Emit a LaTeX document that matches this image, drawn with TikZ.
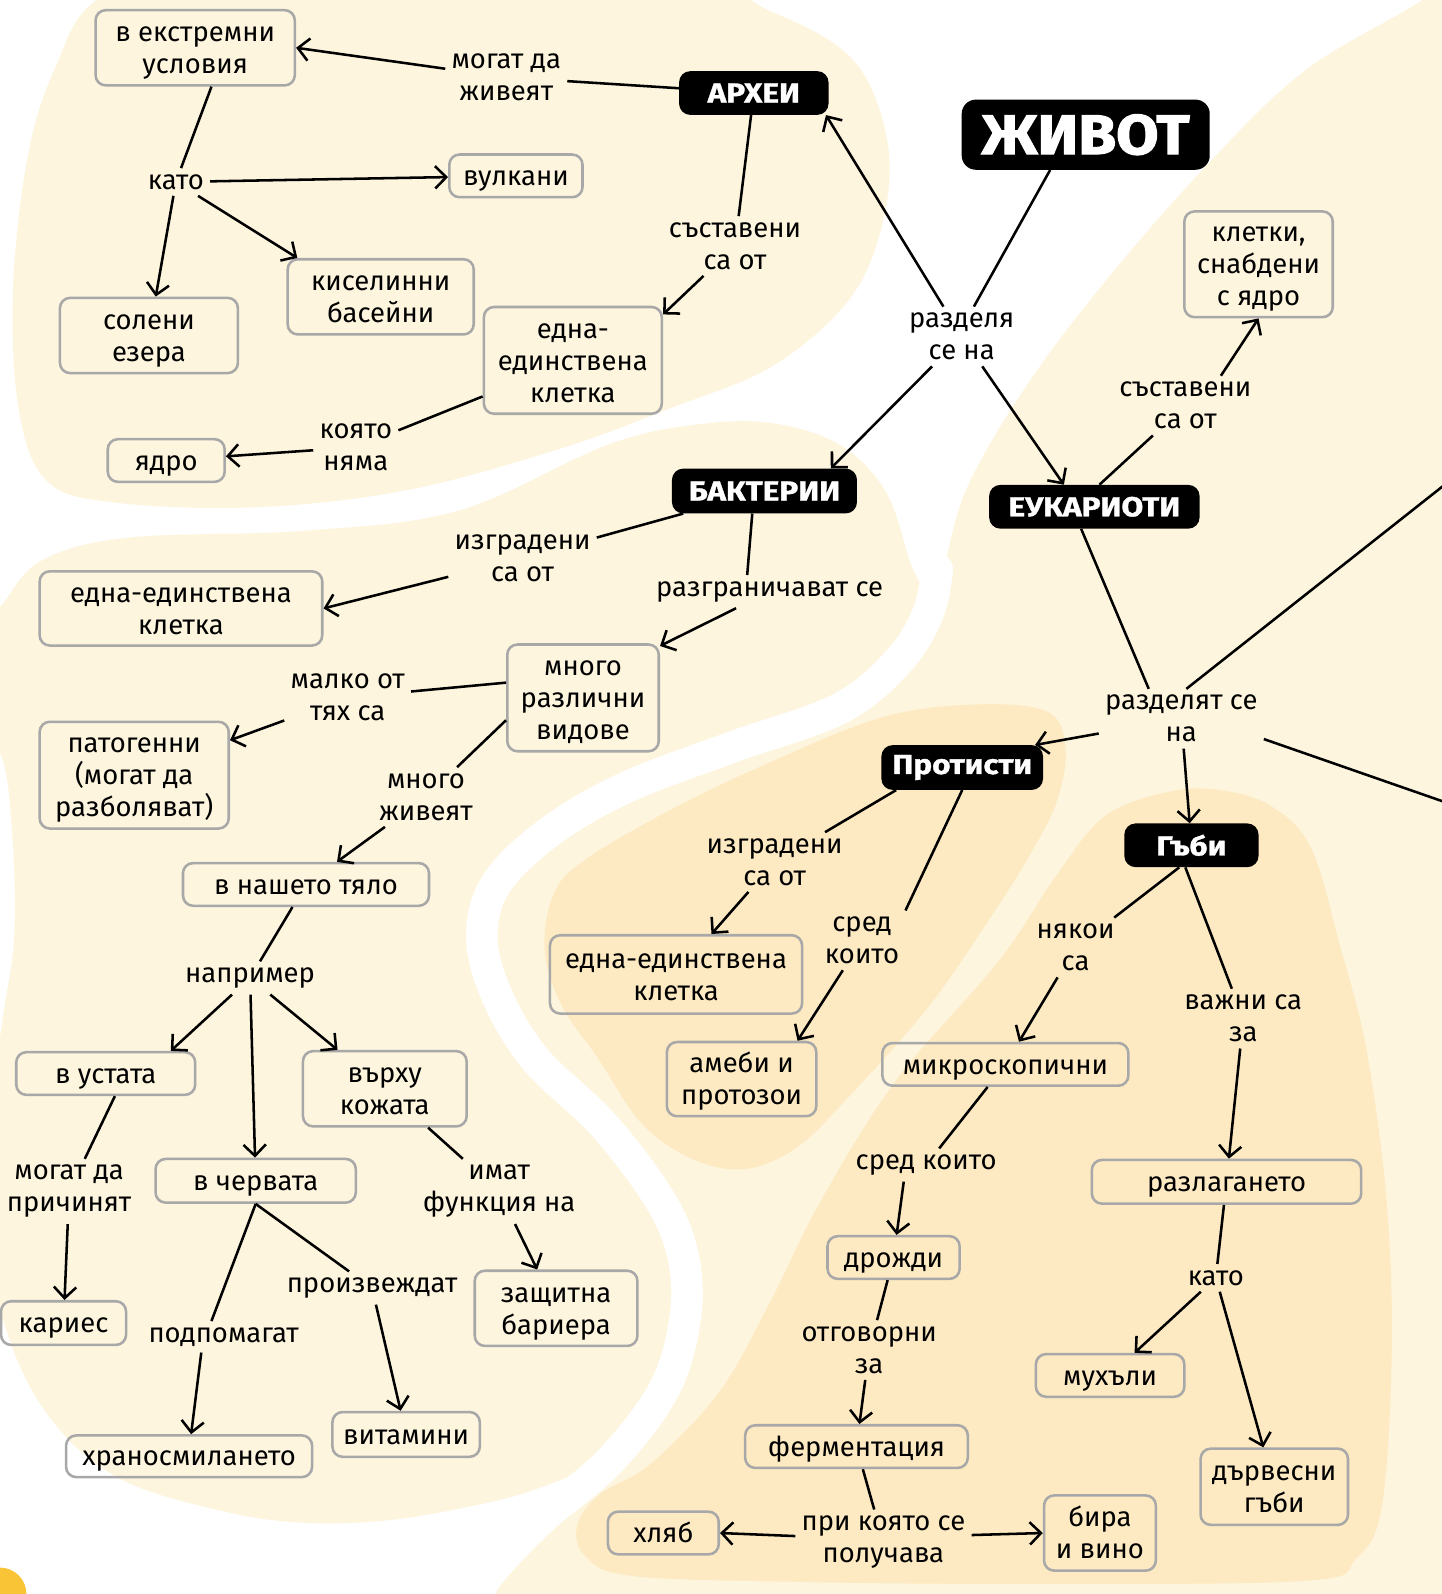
\documentclass[tikz,border=0pt]{standalone}
\usepackage{fontspec}
\setmainfont{Fira Sans}
\newfontfamily\heavyfont{Fira Sans}[FakeBold=1.2,FakeStretch=1.15]
\newfontfamily\hugefont{Fira Sans}[FakeBold=2,FakeStretch=1.1]
\usetikzlibrary{arrows.meta,calc}
\definecolor{creamA}{RGB}{253,245,222}
\definecolor{creamD}{RGB}{253,234,194}
\definecolor{boxgray}{RGB}{168,168,168}
\definecolor{dotY}{RGB}{249,197,55}
\newcommand\tx[1]{\rule{0pt}{27pt}#1\rule[-8pt]{0pt}{8pt}}
\tikzset{
  box/.style={draw=boxgray, line width=2.5pt, rounded corners=10pt, align=center, inner sep=2pt,
    font=\fontsize{27pt}{31.5pt}\selectfont},
  blk/.style={fill=black, text=white, rounded corners=11pt, align=center, inner sep=2pt,
    font=\heavyfont\bfseries\fontsize{27pt}{31.5pt}\selectfont},
  lab/.style={align=center, inner sep=6pt, font=\fontsize{27pt}{31.5pt}\selectfont},
  ln/.style={line width=2.5pt, draw=black},
  arr/.style={ln, -{Straight Barb[length=11pt,width=22pt]}},
}
\begin{document}
\begin{tikzpicture}[x=1pt,y=-1pt]
\useasboundingbox (0,0) rectangle (1418,1568);
\fill[white] (0,0) rectangle (1418,1568);
% ---------- background blobs ----------
\fill[creamA] plot[smooth cycle, tension=0.6] coordinates {(200,-40) (650,-20) (760,12) (840,60) (873,140) (868,220) (835,295) (760,360) (661,401) (552,441) (401,482) (251,499) (110,494) (45,472) (18,400) (13,280) (28,150) (55,65) (95,0)};
\fill[creamA] plot[smooth cycle, tension=0.6] coordinates {(-40,640) (0,597) (40,552) (125,529) (301,522) (452,502) (602,436) (700,416) (770,418) (830,440) (872,485) (895,552) (913,603) (884,650) (826,697) (720,735) (615,775) (541,818) (489,868) (474,919) (487,975) (525,1040) (594,1107) (649,1180) (672,1236) (674,1297) (653,1367) (600,1430) (527,1465) (452,1484) (376,1496) (301,1498) (226,1488) (125,1458) (60,1408) (15,1333) (-10,1232) (-10,1100) (3,1000) (14,921) (12,820) (0,740) (-40,690)};
\fill[creamA] (1460,-40) -- (1460,1610) -- (465,1610) -- plot[smooth, tension=0.6] coordinates {(466,1575) (480,1550) (532,1495) (600,1437) (653,1367) (674,1297) (672,1236) (649,1180) (594,1107) (525,1040) (487,975) (474,919) (489,868) (541,818) (615,775) (720,735) (826,697) (884,650) (913,603) (930,551) (952,478) (1008,382) (1083,282) (1183,167) (1283,70) (1399,0) (1440,-40)} -- cycle;
\fill[creamD] plot[smooth cycle, tension=0.6] coordinates {(571,849) (659,797) (764,747) (870,705) (960,693) (1030,700) (1048,735) (1040,787) (1013,841) (972,906) (912,992) (832,1082) (782,1130) (732,1150) (681,1140) (631,1105) (589,1042) (553,990) (536,937) (543,884)};
\fill[creamD] plot[smooth cycle, tension=0.6] coordinates {(1088,802) (1154,778) (1205,778) (1252,794) (1290,835) (1318,930) (1344,1032) (1364,1182) (1369,1333) (1359,1483) (1334,1533) (1284,1555) (1000,1558) (780,1556) (620,1550) (575,1530) (568,1500) (590,1470) (640,1440) (707,1370) (757,1282) (807,1182) (882,1062) (982,946) (1040,860)};
\draw[white, line width=31pt, line cap=round] plot[smooth, tension=0.6] coordinates {(922,560) (913,603) (884,650) (826,697) (720,735) (615,775) (541,818) (489,868) (474,919) (487,975) (525,1040) (594,1107) (649,1180) (672,1236) (674,1297) (653,1367) (600,1437) (532,1495) (480,1550) (466,1580)};
\fill[dotY] (0,1568) circle (26pt);
% ---------- black concept nodes ----------
\node[blk, minimum width=244pt, minimum height=69pt, rounded corners=14pt, font=\hugefont\bfseries\fontsize{55pt}{60pt}\selectfont] (zhivot) at (1068,132.5) {ЖИВОТ};
\node[blk, minimum width=147pt, minimum height=43pt] (archei) at (741.5,91.5) {АРХЕИ};
\node[blk, minimum width=182pt, minimum height=44pt] (bakt) at (752,483) {БАКТЕРИИ};
\node[blk, minimum width=207pt, minimum height=43pt] (euk) at (1076.5,498.5) {ЕУКАРИОТИ};
\node[blk, minimum width=159pt, minimum height=44pt] (prot) at (946.5,755) {Протисти};
\node[blk, minimum width=132pt, minimum height=43pt] (gabi) at (1172,831.5) {Гъби};
% ---------- boxes ----------
\node[box, minimum width=196pt, minimum height=74pt] (ext) at (192,47) {\tx{в екстремни\\условия}};
\node[box, minimum width=131pt, minimum height=42pt] (vulk) at (507.5,173) {\tx{вулкани}};
\node[box, minimum width=175pt, minimum height=74pt] (solen) at (146.5,330) {\tx{солени\\езера}};
\node[box, minimum width=183pt, minimum height=74pt] (kisel) at (374.5,292) {\tx{киселинни\\басейни}};
\node[box, minimum width=175pt, minimum height=105pt] (edna1) at (563.5,354.5) {\tx{една-\\единствена\\клетка}};
\node[box, minimum width=115pt, minimum height=42pt] (yadro) at (163.5,453) {\tx{ядро}};
\node[box, minimum width=146pt, minimum height=104pt] (kletki) at (1238,260) {\tx{клетки,\\снабдени\\с ядро}};
\node[box, minimum width=278pt, minimum height=73pt] (edna2) at (178,598.5) {\tx{една-единствена\\клетка}};
\node[box, minimum width=149pt, minimum height=105pt] (mnogo) at (573.5,686.5) {\tx{много\\различни\\видове}};
\node[box, minimum width=186pt, minimum height=105pt] (patog) at (132,762.5) {\tx{патогенни\\(могат да\\разболяват)}};
\node[box, minimum width=242pt, minimum height=42pt] (nashe) at (301,870) {\tx{в нашето тяло}};
\node[box, minimum width=176pt, minimum height=42pt] (ustata) at (104,1056) {\tx{в устата}};
\node[box, minimum width=161pt, minimum height=74pt] (varhu) at (378.5,1071) {\tx{върху\\кожата}};
\node[box, minimum width=197pt, minimum height=43pt] (cherv) at (251.5,1161.5) {\tx{в червата}};
\node[box, minimum width=123pt, minimum height=43pt] (karies) at (62.5,1301.5) {\tx{кариес}};
\node[box, minimum width=160pt, minimum height=74pt] (zasht) at (547,1287) {\tx{защитна\\бариера}};
\node[box, minimum width=242pt, minimum height=41pt] (hranos) at (186,1432.5) {\tx{храносмилането}};
\node[box, minimum width=145pt, minimum height=44pt] (vitam) at (399.5,1411) {\tx{витамини}};
\node[box, minimum width=248pt, minimum height=77pt] (edna3) at (665,958.5) {\tx{една-единствена\\клетка}};
\node[box, minimum width=147pt, minimum height=73pt] (ameb) at (729.5,1061.5) {\tx{амеби и\\протозои}};
\node[box, minimum width=242pt, minimum height=42pt] (mikro) at (989,1047) {\tx{микроскопични}};
\node[box, minimum width=265pt, minimum height=43pt] (razl) at (1206.5,1162.5) {\tx{разлагането}};
\node[box, minimum width=130pt, minimum height=42pt] (drozh) at (879,1237) {\tx{дрожди}};
\node[box, minimum width=146pt, minimum height=42pt] (muh) at (1092,1353) {\tx{мухъли}};
\node[box, minimum width=145pt, minimum height=75pt] (darv) at (1253.5,1462.5) {\tx{дървесни\\гъби}};
\node[box, minimum width=219pt, minimum height=42pt] (ferm) at (842.5,1423) {\tx{ферментация}};
\node[box, minimum width=109pt, minimum height=42pt] (hlyab) at (652.5,1508) {\tx{хляб}};
\node[box, minimum width=110pt, minimum height=74pt] (bira) at (1082,1508) {\tx{бира\\и вино}};
% ---------- linking phrases ----------
\node[lab] (mogat) at (498,76) {могат да\\живеят};
\node[lab] (kato) at (173,179) {като};
\node[lab] (sast1) at (723,242) {съставени\\са от};
\node[lab] (koqto) at (350,440) {която\\няма};
\node[lab] (razd) at (946,331) {разделя\\се на};
\node[lab] (sast2) at (1166,399) {съставени\\са от};
\node[lab] (izgr1) at (514,549) {изградени\\са от};
\node[lab] (razgr) at (757,582) {разграничават се};
\node[lab] (malko) at (342,686) {малко от\\тях са};
\node[lab] (mzhiv) at (419,784) {много\\живеят};
\node[lab] (naprim) at (246,962) {например};
\node[lab] (mogat2) at (68,1172) {могат да\\причинят};
\node[lab] (imat) at (491,1172) {имат\\функция на};
\node[lab] (proizv) at (366,1267) {произвеждат};
\node[lab] (podp) at (220,1315) {подпомагат};
\node[lab] (razdq) at (1162,707) {разделят се\\на};
\node[lab] (izgr2) at (762,848) {изградени\\са от};
\node[lab] (sred1) at (848,925) {сред\\които};
\node[lab] (nyakoi) at (1058,932) {някои\\са};
\node[lab] (vazhni) at (1223,1002) {важни са\\за};
\node[lab] (sred2) at (911,1146) {сред които};
\node[lab] (kato2) at (1196,1257) {като};
\node[lab] (otg) at (855,1328) {отговорни\\за};
\node[lab] (priko) at (869,1517) {при която се\\получава};
\coordinate (offA) at (1450,454);
\coordinate (offB) at (1450,799);
% ---------- connectors ----------
\draw[ln] (archei) -- (mogat);
\draw[arr] (mogat) -- (ext.east);
\draw[ln] ([xshift=16pt]ext.south) -- (kato);
\draw[arr] (kato) -- (vulk);
\draw[arr] (kato) -- (solen);
\draw[arr] (kato) -- (kisel.155);
\draw[ln] (archei) -- (sast1);
\draw[arr] (sast1) -- (edna1.27);
\draw[ln] (edna1) -- (koqto);
\draw[arr] (koqto) -- (yadro);
\draw[ln] ([xshift=-35pt]zhivot.south) -- ([xshift=12pt]razd.north);
\draw[arr] (razd) -- (archei.-17);
\draw[arr] (razd) -- ([xshift=-26pt]bakt.north east);
\draw[arr] (razd) -- ([xshift=-30pt]euk.north);
\draw[ln] ([xshift=5pt]euk.north) -- (sast2);
\draw[arr] ([xshift=35pt]sast2.north) -- (kletki.south);
\draw[ln] (bakt) -- (izgr1);
\draw[arr] (izgr1) -- (edna2.east);
\draw[ln] ([xshift=-12pt]bakt.south) -- ([xshift=-22pt]razgr.north);
\draw[arr] (razgr) -- (mnogo.34);
\draw[ln] ([yshift=15pt]mnogo.west) -- (malko);
\draw[arr] (malko) -- (patog);
\draw[ln] ([yshift=-22pt]mnogo.west) -- (mzhiv);
\draw[arr] (mzhiv) -- (nashe);
\draw[ln] (nashe) -- (naprim);
\draw[arr] (naprim) -- ([xshift=64pt]ustata.north);
\draw[arr] (naprim) -- (cherv);
\draw[arr] (naprim) -- (varhu);
\draw[ln] ([xshift=9pt]ustata.south) -- (mogat2);
\draw[arr] (mogat2) -- (karies);
\draw[ln] (varhu) -- (imat);
\draw[arr] (imat) -- (zasht);
\draw[ln] (cherv.south) -- ([xshift=-12pt]podp.north);
\draw[ln] (cherv.south) -- (proizv);
\draw[arr] ([xshift=-22pt]podp.south) -- ([xshift=2pt]hranos.north);
\draw[arr] (proizv) -- (vitam);
\draw[ln] ([xshift=-13pt]euk.south) -- ([xshift=-32pt]razdq.north);
\draw[arr] (razdq) -- ([xshift=-8pt]prot.north east);
\draw[arr] (razdq) -- (gabi);
\draw[ln] ([xshift=5pt]razdq.north) -- (offA);
\draw[ln] ([yshift=-20pt]razdq.east) -- (offB);
\draw[ln] ([xshift=-65pt]prot.south) -- (izgr2);
\draw[arr] (izgr2) -- (edna3);
\draw[ln] (prot.south) -- (sred1.north east);
\draw[arr] (sred1) -- ([xshift=55pt]ameb.north);
\draw[ln] ([xshift=-12pt]gabi.south) -- (nyakoi);
\draw[arr] (nyakoi) -- (mikro);
\draw[ln] ([xshift=-6pt]gabi.south) -- (vazhni);
\draw[arr] (vazhni) -- (razl);
\draw[ln] (mikro) -- (sred2);
\draw[arr] ([xshift=-22pt]sred2.south) -- (drozh);
\draw[ln] (razl) -- (kato2);
\draw[arr] (kato2) -- (muh);
\draw[arr] (kato2) -- (darv);
\draw[ln] (drozh) -- (otg);
\draw[arr] (otg) -- (ferm);
\draw[ln] (ferm) -- (priko);
\draw[arr] ([yshift=6pt]priko.west) -- (hlyab.east);
\draw[arr] ([yshift=7pt]priko.east) -- (bira.west);
\end{tikzpicture}
\end{document}
